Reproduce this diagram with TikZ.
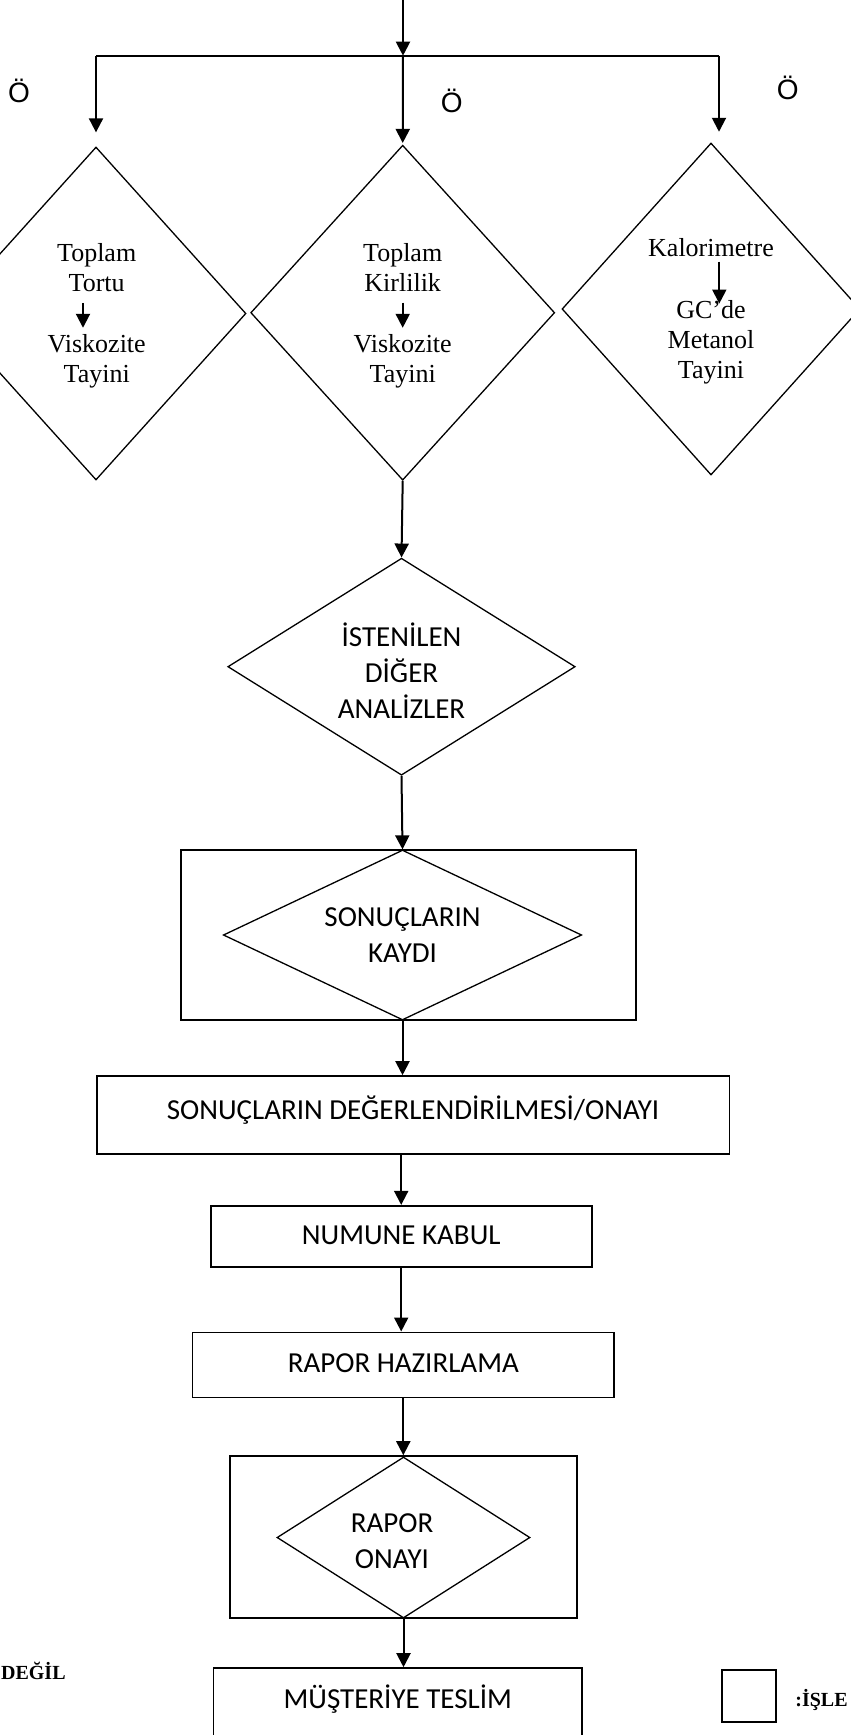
\documentclass[tikz,border=0pt]{standalone}
\usepackage{fontspec}
\setmainfont{Liberation Serif}
\newfontfamily\calibri{Carlito}
\newfontfamily\arialfont{Liberation Sans}
\usetikzlibrary{arrows.meta,shapes.geometric}

\begin{document}
\begin{tikzpicture}[x=0.5pt,y=-0.5pt,>={Triangle[length=7pt,width=7pt]},
  flow/.style={->,line width=1pt},
  rombus/.style={diamond,draw,line width=0.65pt,inner sep=0pt,aspect=1.6},
  kutu/.style={rectangle,draw,line width=0.8pt,inner sep=0pt},
  serif/.style={font=\fontsize{13pt}{15pt}\selectfont,align=center,inner sep=0pt},
  sans/.style={font=\calibri\fontsize{14.5pt}{18pt}\selectfont,align=center},
  harf/.style={font=\arialfont\fontsize{14pt}{16pt}\selectfont,anchor=base,inner sep=0pt},
  kalin/.style={font=\bfseries\fontsize{10pt}{12pt}\selectfont,inner sep=0pt}]

\useasboundingbox (0,0) rectangle (851,1735);

% split at the top
\coordinate (top) at (403,0);
\coordinate (split) at (403,55.7);
\coordinate (splitL) at (96,55.7);
\coordinate (splitR) at (719,55.7);

% three analyses
\node[rombus,minimum width=150pt,minimum height=166.5pt] (dA) at (96,313.5) {};
\node[rombus,minimum width=152pt,minimum height=167.5pt] (dB) at (402.7,312.7) {};
\node[rombus,minimum width=149pt,minimum height=166pt] (dC) at (711,309) {};

\draw[flow] (top) -- (split);
\draw[line width=1pt] (splitL) -- (splitR);
\draw[flow,shorten >=7pt] (splitL) -- (dA.north);
\draw[flow,shorten >=0.8pt] (split) -- (dB.north);
\draw[flow,shorten >=5.3pt] (splitR) -- (splitR |- dC.north);

\node[harf] (oA) at (19,102) {Ö};
\node[harf] (oB) at (451.7,112) {Ö};
\node[harf] (oC) at (787.7,99.5) {Ö};

\node[serif] (tA1) at (96.7,267.3) {Toplam\\Tortu};
\node[serif] (tA2) at (96.7,361.2) {Viskozite\\Tayini};
\draw[flow,shorten <=5.5pt,shorten >=3.1pt] ([xshift=-6.85pt]tA1.south) -- ([xshift=-6.85pt]tA2.north);

\node[serif] (tB1) at (402.7,267.3) {Toplam\\Kirlilik};
\node[serif] (tB2) at (402.7,361.2) {Viskozite\\Tayini};
\draw[flow,shorten <=5.5pt,shorten >=3.1pt] (tB1.south) -- (tB2.north);

\node[serif] (tC1) at (711,248) {Kalorimetre};
\node[serif] (tC2) at (711,342) {GC’de\\Metanol\\Tayini};
\draw[flow,shorten <=2pt,shorten >=-1.9pt] ([xshift=4.15pt]tC1.south) -- ([xshift=4.15pt]tC2.north);

% other analyses and records
\node[rombus,minimum width=173.7pt,minimum height=108.5pt] (dD) at (401.5,666.7) {};
\node[sans,inner sep=0pt] (tD) at (401.5,671) {İSTENİLEN\\DİĞER\\ANALİZLER};
\draw[flow] (dB.south) -- (dD.north);

\node[kutu,minimum width=227.5pt,minimum height=85pt] (rE) at (408.2,935) {};
\node[rombus,sans,minimum width=179.2pt,minimum height=85pt] (dE) at (402.5,935) {SONUÇLARIN\\KAYDI};
\draw[flow] (dD.south) -- (dE.north);

\node[kutu,sans,minimum width=316.3pt,text height=21.5pt,text depth=17.5pt] (F) at (413,1115) {SONUÇLARIN DEĞERLENDİRİLMESİ/ONAYI};
\draw[flow] (dE.south) -- (dE.south |- F.north);

\node[kutu,sans,minimum width=190.5pt,text height=19.5pt,text depth=11pt] (G) at (401.2,1236.2) {NUMUNE KABUL};
\draw[flow] (G.north |- F.south) -- (G.north);

\node[kutu,sans,minimum width=210.65pt,text height=20pt,text depth=12.5pt] (H) at (403.3,1364.8) {RAPOR HAZIRLAMA};
\draw[flow] (G.south) -- (G.south |- H.north);

% report approval and delivery
\node[kutu,minimum width=173.5pt,minimum height=81pt] (rI) at (403.5,1537) {};
\node[rombus,minimum width=126.5pt,minimum height=80.5pt] (dI) at (403.5,1537.5) {};
\node[sans,inner sep=0pt] (tI) at (392,1541) {RAPOR\\ONAYI};
\draw[flow] (H.south) -- (H.south |- rI.north);

\node[kutu,sans,minimum width=184.2pt,text height=20pt,text depth=20pt] (J) at (397.8,1708) {MÜŞTERİYE TESLİM};
\draw[flow] (rI.south) -- (rI.south |- J.north);

% legend
\node[kutu,minimum width=27pt,minimum height=26pt] (K) at (749,1696) {};
\node[kalin,anchor=base west] (kL) at (795,1706) {:İŞLE};
\node[kalin,anchor=base east] (dL) at (66,1679) {DEĞİL};

\end{tikzpicture}
\end{document}
